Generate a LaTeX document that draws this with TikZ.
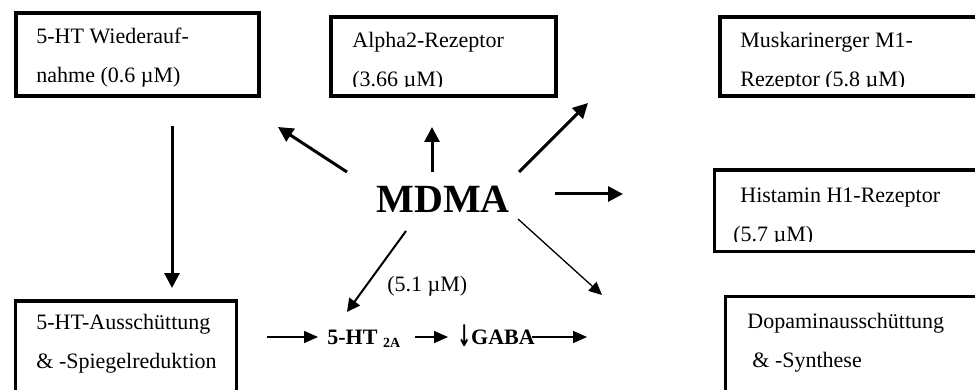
\documentclass[tikz,border=0pt]{standalone}
\usepackage{fontspec}
\setmainfont{Liberation Serif}
\newfontfamily\arrowfont{DejaVu Sans}
\usetikzlibrary{arrows.meta}

\tikzset{
  boxline/.style={line width=1.75pt},
  boxtext/.style={anchor=base west, align=left, inner sep=0pt,
    font=\fontsize{11}{19.5}\selectfont},
  fat/.style={line width=1.5pt, -{Triangle[length=7.5pt,width=7.5pt]}},
  mid/.style={line width=1pt, -{Triangle[length=6.5pt,width=6.5pt]}},
  slim/.style={line width=0.65pt, -{Triangle[length=6.5pt,width=6pt]}},
  small/.style={line width=0.75pt, -{Triangle[length=7pt,width=6pt]}}
}

\begin{document}
\begin{tikzpicture}[x=0.5pt, y=-0.5pt]
  \clip (0,0) rectangle (975,390);

  % boxes
  \draw[boxline] (16,13) rectangle (259,96);
  \draw[boxline] (331,17) rectangle (556,96);
  \draw[boxline] (720,17) rectangle (990,96);
  \draw[boxline] (714.5,170) rectangle (990,251.5);
  \draw[boxline] (725.5,296.5) rectangle (990,400);
  \draw[boxline] (15.5,301) rectangle (236.5,400);

  % box texts
  \node[boxtext] (wieder) at (36,83) {5-HT Wiederauf-\\nahme (0.6 µM)};
  \begin{scope}
    \clip (331,17) rectangle (556,87);
    \node[boxtext] (alpha) at (352,87) {Alpha2-Rezeptor\\(3.66 µM)};
  \end{scope}
  \begin{scope}
    \clip (720,17) rectangle (975,87);
    \node[boxtext] (musk) at (740,87) {Muskarinerger M1-\\Rezeptor (5.8 µM)};
  \end{scope}
  \begin{scope}
    \clip (714.5,170) rectangle (975,241);
    \node[boxtext] (hist) at (733,242) {\hspace*{3.5pt}Histamin H1-Rezeptor\\(5.7 µM)};
  \end{scope}
  \node[boxtext] (dopa) at (747,367) {Dopaminausschüttung\\\hspace*{2.5pt}\& -Synthese};
  \node[boxtext] (aus) at (36,368) {5-HT-Ausschüttung\\\& -Spiegelreduktion};

  % centre
  \node[anchor=base, inner sep=0pt, font=\fontsize{20}{24}\selectfont\bfseries]
    (mdma) at (443,213) {MDMA};
  \node[anchor=base west, inner sep=0pt, font=\fontsize{11}{13}\selectfont]
    (ki) at (387,291) {(5.1 µM)};
  \node[anchor=base west, inner sep=0pt, font=\fontsize{11}{13}\selectfont\bfseries]
    (ht2a) at (327,344) {5-HT {\fontsize{7}{8}\selectfont\raisebox{-1.5pt}{2A}}};
  \node[anchor=base west, inner sep=0pt, font=\fontsize{11}{13}\selectfont\bfseries]
    (gaba) at (457,344) {\raisebox{-1pt}{\scalebox{0.75}[1.35]{\arrowfont\bfseries ↓}}GABA};

  % arrow ends
  \coordinate (m-wieder) at (347,172);  \coordinate (to-wieder) at (278,127);
  \coordinate (m-alpha) at (432,172);   \coordinate (to-alpha) at (432,127);
  \coordinate (m-musk) at (519,172);    \coordinate (to-musk) at (588,103);
  \coordinate (m-hist) at (555,194);    \coordinate (to-hist) at (623,194);
  \coordinate (m-ht) at (406,231);      \coordinate (to-ht) at (347,312);
  \coordinate (m-dopa) at (518,219);    \coordinate (to-dopa) at (602,295);
  \coordinate (w-out) at (172,126);     \coordinate (to-aus) at (172,288);
  \coordinate (aus-out) at (267,337);   \coordinate (to-ht2a) at (318,337);
  \coordinate (ht2a-out) at (415,337);  \coordinate (to-gaba) at (448,337);
  \coordinate (gaba-out) at (532,337);  \coordinate (gaba-end) at (587,337);

  \draw[fat] (m-wieder) -- (to-wieder);
  \draw[fat] (m-alpha) -- (to-alpha);
  \draw[fat] (m-musk) -- (to-musk);
  \draw[fat] (m-hist) -- (to-hist);
  \draw[mid] (m-ht) -- (to-ht);
  \draw[slim] (m-dopa) -- (to-dopa);
  \draw[fat] (w-out) -- (to-aus);
  \draw[small] (aus-out) -- (to-ht2a);
  \draw[small] (ht2a-out) -- (to-gaba);
  \draw[small] (gaba-out) -- (gaba-end);
\end{tikzpicture}
\end{document}
